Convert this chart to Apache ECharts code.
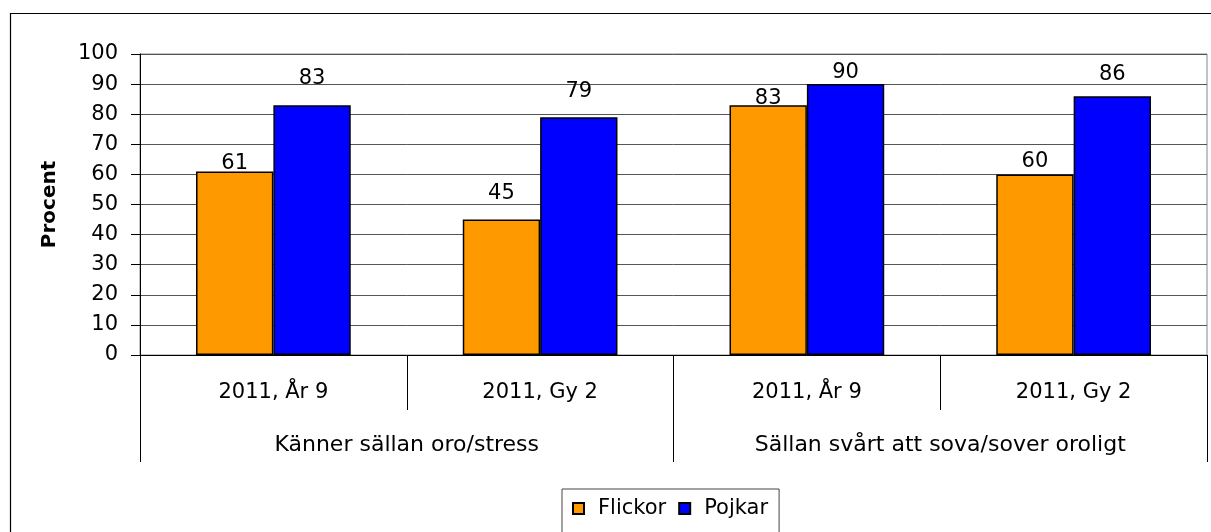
<!DOCTYPE html>
<html>
<head>
<meta charset="utf-8">
<script src="https://cdn.jsdelivr.net/npm/echarts@6/dist/echarts.min.js"></script>
<style>
    html, body {margin: 0; padding: 0; background: #fff;}
    #chart {width: 1211px; height: 532px;}
</style>
</head>
<body>
<div id="chart"></div>
<script>
    const subCategories = ['2011, År 9', '2011, Gy 2', '2011, År 9', '2011, Gy 2'];
    const groupCategories = ['Känner sällan oro/stress', 'Sällan svårt att sova/sover oroligt'];
    const flickor = [61, 45, 83, 60];
    const pojkar = [83, 79, 90, 86];
    // label gaps above the bars (the original labels sit at uneven heights)
    const flickorLabelGap = [-3, 16, -4, 2];
    const pojkarLabelGap = [16, 15, 1, 11];

    const font = 'DejaVu Sans, Liberation Sans, Arial, sans-serif';

    function withLabels(values, gaps) {
        return values.map((v, i) => ({value: v, label: {distance: gaps[i]}}));
    }

    const myChart = echarts.init(document.getElementById('chart'));
    const option = {
        animation: false,
        textStyle: {fontFamily: font},
        graphic: [{
            type: 'rect',
            shape: {x: 10.5, y: 13.5, width: 1300, height: 700},
            style: {fill: 'none', stroke: '#000', lineWidth: 1.2},
            silent: true
        }],
        grid: {left: 140, right: 4, top: 54, bottom: 177, show: true,
            borderColor: '#888', borderWidth: 1, backgroundColor: 'transparent'},
        legend: {
            left: 562, top: 489,
            padding: [9, 11, 24, 10],
            borderColor: '#444', borderWidth: 1,
            icon: 'rect',
            itemWidth: 11, itemHeight: 11, itemGap: 12,
            textStyle: {fontSize: 21, color: '#000', fontFamily: font, padding: [0, 0, 0, 9]},
            data: ['Flickor', 'Pojkar']
        },
        xAxis: [{
            type: 'category',
            data: subCategories,
            axisLine: {lineStyle: {color: '#000', width: 1}},
            axisTick: {show: true, interval: 0, length: 55, lineStyle: {color: '#000'}},
            axisLabel: {interval: 0, margin: 27, fontSize: 21, color: '#000', fontFamily: font}
        }, {
            type: 'category',
            position: 'bottom',
            data: groupCategories,
            axisLine: {show: false},
            axisTick: {show: true, interval: 0, length: 107, lineStyle: {color: '#000'}},
            axisLabel: {interval: 0, margin: 79, fontSize: 22, color: '#000', fontFamily: font}
        }],
        yAxis: {
            type: 'value',
            min: 0, max: 100, interval: 10,
            name: 'Procent',
            nameLocation: 'middle',
            nameRotate: 90,
            nameGap: 80,
            nameTextStyle: {fontSize: 20, fontWeight: 'bold', color: '#000', fontFamily: font},
            axisLine: {show: true, lineStyle: {color: '#000'}},
            axisTick: {show: true, length: 9, lineStyle: {color: '#000'}},
            axisLabel: {margin: 22, fontSize: 21, color: '#000', fontFamily: font},
            splitLine: {lineStyle: {color: '#555', width: 1}}
        },
        series: [{
            name: 'Flickor',
            type: 'bar',
            xAxisIndex: 0,
            data: withLabels(flickor, flickorLabelGap),
            barGap: '0%',
            barCategoryGap: '42%',
            itemStyle: {color: '#FF9900', borderColor: '#000', borderWidth: 1.5},
            label: {show: true, position: 'top', fontSize: 21, color: '#000', fontFamily: font}
        }, {
            name: 'Pojkar',
            type: 'bar',
            xAxisIndex: 0,
            data: withLabels(pojkar, pojkarLabelGap),
            barGap: '0%',
            barCategoryGap: '42%',
            itemStyle: {color: '#0000FF', borderColor: '#000', borderWidth: 1.5},
            label: {show: true, position: 'top', fontSize: 21, color: '#000', fontFamily: font}
        }]
    };
    myChart.setOption(option, true);
</script>
</body>
</html>
